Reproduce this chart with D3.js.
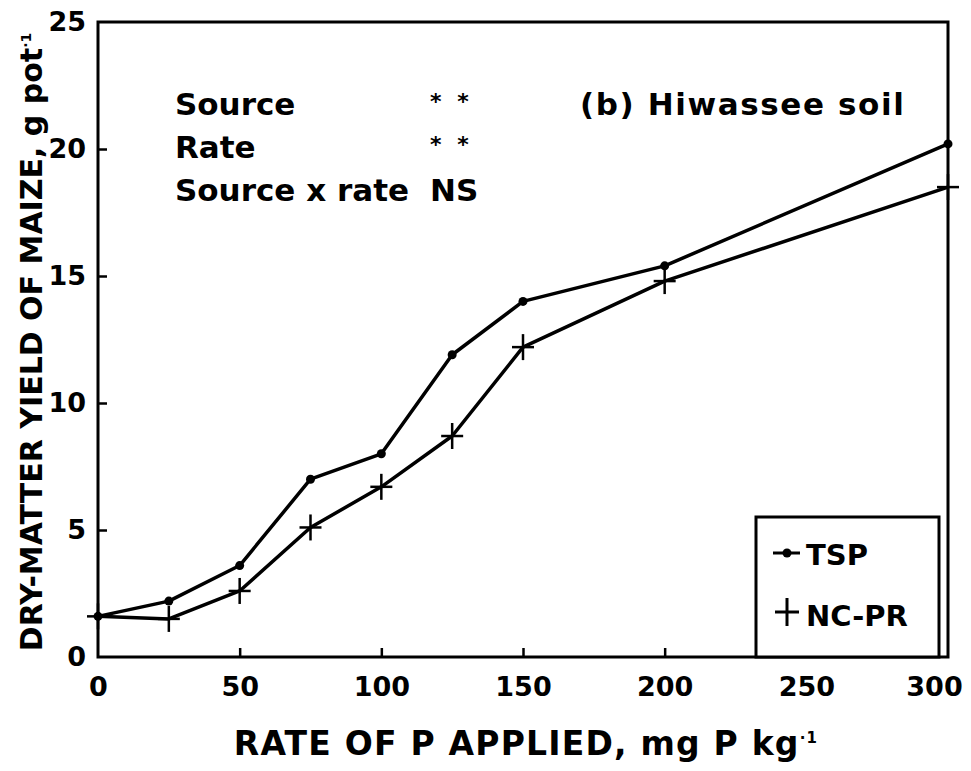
<!DOCTYPE html>
<html>
<head>
<meta charset="utf-8">
<script src="https://cdn.jsdelivr.net/npm/d3@7"></script>
<style>
	body { margin: 0; background: #fff; }
	text { font-family: "DejaVu Sans", sans-serif; font-weight: bold; fill: #000; }
</style>
</head>
<body>
<script>
	const rates = [0, 25, 50, 75, 100, 125, 150, 200, 300];
	const tspYield = [1.6, 2.2, 3.6, 7.0, 8.0, 11.9, 14.0, 15.4, 20.2];
	const ncprYield = [1.6, 1.5, 2.6, 5.1, 6.7, 8.7, 12.2, 14.8, 18.5];
	const xTicks = [0, 50, 100, 150, 200, 250, 300];
	const yTicks = [0, 5, 10, 15, 20, 25];
	const statLabels = ["Source", "Rate", "Source x rate"];
	const statValues = ["* *", "* *", "NS"];

	const width = 971;
	const height = 771;

	// scale
	const x = d3.scaleLinear().domain([0, 300]).range([98, 948]);
	const y = d3.scaleLinear().domain([0, 25]).range([657, 22]);

	const svg = d3.select("body").append("svg")
		.attr("width", width)
		.attr("height", height);

	// cornice del grafico
	svg.append("rect")
		.attr("x", x(0)).attr("y", y(25))
		.attr("width", x(300) - x(0)).attr("height", y(0) - y(25))
		.attr("fill", "none").attr("stroke", "#000").attr("stroke-width", 3);

	// assi con tick verso l'interno
	const xAxis = svg.append("g")
		.attr("transform", `translate(0,${y(0)})`)
		.call(d3.axisBottom(x).tickValues(xTicks).tickSizeInner(-9).tickSizeOuter(0).tickPadding(20));
	const yAxis = svg.append("g")
		.attr("transform", `translate(${x(0)},0)`)
		.call(d3.axisLeft(y).tickValues(yTicks).tickSizeInner(-9).tickSizeOuter(0).tickPadding(12));

	[xAxis, yAxis].forEach(a => {
		a.select(".domain").remove();
		a.selectAll("line").attr("stroke", "#000").attr("stroke-width", 2.5);
		a.selectAll("text").attr("font-size", 27).attr("font-family", "DejaVu Sans, sans-serif").attr("font-weight", "bold");
	});
	xAxis.selectAll(".tick").filter(d => d === 0 || d === 300).select("line").remove();
	yAxis.selectAll(".tick").filter(d => d === 0 || d === 25).select("line").remove();
	xAxis.selectAll(".tick").filter(d => d === 300).select("text").attr("dx", -14);

	// titoli degli assi
	svg.append("text")
		.attr("x", 526).attr("y", 755)
		.attr("text-anchor", "middle").attr("font-size", 33).attr("letter-spacing", 1.2)
		.text("RATE OF P APPLIED, mg P kg")
		.append("tspan").attr("dy", -12).attr("font-size", 15).text("·1");

	svg.append("text")
		.attr("transform", "translate(42,342) rotate(-90)")
		.attr("text-anchor", "middle").attr("font-size", 30)
		.text("DRY-MATTER YIELD OF MAIZE, g pot")
		.append("tspan").attr("dy", -11).attr("font-size", 14).text("·1");

	// linee delle serie
	const line = d3.line().x(d => x(d[0])).y(d => y(d[1]));
	const tspData = rates.map((r, i) => [r, tspYield[i]]);
	const ncprData = rates.map((r, i) => [r, ncprYield[i]]);

	[tspData, ncprData].forEach(dat => {
		svg.append("path")
			.datum(dat)
			.attr("d", line)
			.attr("fill", "none").attr("stroke", "#000")
			.attr("stroke-width", 3.5).attr("stroke-linejoin", "round");
	});

	svg.selectAll(".tsp").data(tspData).join("circle")
		.attr("cx", d => x(d[0])).attr("cy", d => y(d[1]))
		.attr("r", 4.5).attr("fill", "#000");

	function plus(g, cx, cy, s) {
		g.append("line").attr("x1", cx - s).attr("x2", cx + s).attr("y1", cy).attr("y2", cy);
		g.append("line").attr("x1", cx).attr("x2", cx).attr("y1", cy - s - 2).attr("y2", cy + s + 2);
	}
	const marks = svg.append("g").attr("stroke", "#000").attr("stroke-width", 2.5);
	ncprData.forEach(d => plus(marks, x(d[0]), y(d[1]), 11));

	// testo statistico
	statLabels.forEach((s, i) => {
		svg.append("text").attr("x", 175).attr("y", 115 + i * 43).attr("font-size", 31).text(s);
		svg.append("text").attr("x", 430).attr("y", 115 + i * 43 - (i < 2 ? 6 : 0))
			.attr("font-size", i < 2 ? 22 : 31).attr("letter-spacing", i < 2 ? 4 : 0).text(statValues[i]);
	});
	svg.append("text").attr("x", 580).attr("y", 115).attr("font-size", 31).attr("letter-spacing", 1.6)
		.text("(b) Hiwassee soil");

	// legenda
	const leg = svg.append("g");
	leg.append("rect")
		.attr("x", 756).attr("y", 517).attr("width", 183).attr("height", y(0) - 517)
		.attr("fill", "#fff").attr("stroke", "#000").attr("stroke-width", 3);
	leg.append("line").attr("x1", 773).attr("x2", 800).attr("y1", 553).attr("y2", 553)
		.attr("stroke", "#000").attr("stroke-width", 3);
	leg.append("circle").attr("cx", 787).attr("cy", 553).attr("r", 4.5).attr("fill", "#000");
	leg.append("text").attr("x", 806).attr("y", 565).attr("font-size", 29).text("TSP");
	const lp = leg.append("g").attr("stroke", "#000").attr("stroke-width", 3);
	plus(lp, 787, 612, 12);
	leg.append("text").attr("x", 806).attr("y", 626).attr("font-size", 29).text("NC-PR");
</script>
</body>
</html>
